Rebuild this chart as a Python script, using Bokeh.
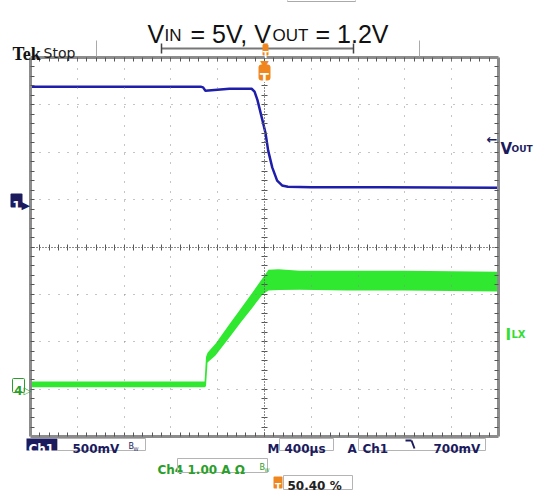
from bokeh.plotting import figure
from bokeh.models import (Range1d, LinearAxis, FixedTicker, Label,
                          BoxAnnotation, Arrow)
from bokeh.embed import file_html
from bokeh.resources import INLINE

# ---------------- data ----------------
# Ch1: V_OUT in volts, time in microseconds (trigger at 0)
t_vout = [-2000, -1000, -540, -525, -505, -300, -110, -85, -60, -20, 9, 31,
          66, 108, 150, 200, 400, 1000, 2000]
v_out = [1.19, 1.19, 1.19, 1.185, 1.15, 1.17, 1.17, 1.14, 1.05, 0.85, 0.70,
         0.52, 0.34, 0.20, 0.15, 0.135, 0.13, 0.13, 0.125]
# Ch4: I_LX in amperes, drawn as the noisy envelope (upper / lower)
t_ilx = [-2000, -1000, -512, -500, -487, -419, -300, -205, -100, -17, 34,
         120, 300, 700, 1200, 2000]
ilx_hi = [0.08, 0.08, 0.08, 0.60, 0.69, 0.88, 1.29, 1.61, 1.97, 2.26, 2.44,
          2.45, 2.42, 2.42, 2.42, 2.40]
ilx_lo = [-0.04, -0.04, -0.04, -0.02, 0.48, 0.63, 1.01, 1.32, 1.65, 1.92,
          2.00, 2.01, 2.02, 2.00, 2.00, 1.98]

# scope settings
time_div = 400      # us / div
n_xdiv, n_ydiv = 10, 8
ch1_scale = 0.5     # V / div
ch1_pos = 1.0       # ground marker, divisions
ch4_scale = 1.0     # A / div
ch4_pos = -2.92     # ground marker, divisions

# canvas and graticule placement (px)
W, H = 538, 492
GX0, GY0, GW, GH = 30, 57, 468, 379
us_px = n_xdiv * time_div / GW
div_px = n_ydiv / GH
XL, XR = -n_xdiv / 2 * time_div, n_xdiv / 2 * time_div
YB, YT = -n_ydiv / 2, n_ydiv / 2


def X(px):
    return XL + (px - GX0) * us_px


def Y(py):
    return YT - (py - GY0) * div_px


NAVY = "#1b1b5e"
GREEN_T = "#2fe82f"
GREEN_TXT = "#2a9e2a"
ORANGE = "#f0871e"
GRAY = "#8c8c8c"

p = figure(width=W, height=H,
           x_range=Range1d(X(0), X(W)), y_range=Range1d(Y(H), Y(0)),
           x_axis_location=None, y_axis_location=None,
           output_backend="svg", toolbar_location=None,
           min_border=0,
           background_fill_color="white", border_fill_color="white",
           outline_line_color=None)
p.xgrid.visible = False
p.ygrid.visible = False

p.extra_y_ranges = {
    "volts": Range1d((Y(H) - ch1_pos) * ch1_scale, (Y(0) - ch1_pos) * ch1_scale),
    "amps": Range1d((Y(H) - ch4_pos) * ch4_scale, (Y(0) - ch4_pos) * ch4_scale),
}

x_minor = [XL + time_div / 5 * i for i in range(1, n_xdiv * 5)]
y_minor = [YB + 0.2 * i for i in range(1, n_ydiv * 5)]


def gaxis(horizontal, loc, side, minor=None, color=GRAY, width=1,
          dash="solid", tick_in=0):
    ax = LinearAxis(fixed_location=loc,
                    bounds=(XL, XR) if horizontal else (YB, YT),
                    ticker=FixedTicker(ticks=[], minor_ticks=minor or []))
    ax.axis_line_color = color
    ax.axis_line_width = width
    ax.axis_line_dash = dash
    ax.major_tick_in = 0
    ax.major_tick_out = 0
    ax.minor_tick_in = tick_in
    ax.minor_tick_out = 0
    ax.minor_tick_line_color = "#555555"
    ax.minor_tick_line_width = 1
    p.add_layout(ax, side)


# division lines (dotted)
HDASH = "1 8 1 9 1 8 1 9 1 8"
VDASH = "1 8 1 8 1 9 1 8 1 9"
for d in range(1, n_ydiv):
    yy = YB + d
    if yy != 0:
        gaxis(True, yy, "below", color="#8a8a8a", dash=VDASH)
for d in range(1, n_xdiv):
    xx = XL + d * time_div
    if xx != 0:
        gaxis(False, xx, "left", color="#8a8a8a", dash=HDASH)

# centre cross with small ticks
gaxis(True, 0, "below", x_minor, "#666666", 1, "1 2", 3)
gaxis(True, 0, "above", x_minor, "#666666", 1, "1 2", 3)
gaxis(False, 0, "left", y_minor, "#666666", 1, "1 2", 3)
gaxis(False, 0, "right", y_minor, "#666666", 1, "1 2", 3)

# ---------------- traces ----------------
p.varea(x=t_ilx, y1=ilx_lo, y2=ilx_hi, y_range_name="amps",
        fill_color=GREEN_T)
p.line(t_vout, v_out, y_range_name="volts", line_color="#1e1eaa",
       line_width=2.5)

# graticule border with inward ticks
gaxis(True, YB, "below", x_minor, GRAY, 3, "solid", 4)
gaxis(True, YT, "above", x_minor, GRAY, 3, "solid", 4)
gaxis(False, XL, "left", y_minor, GRAY, 3, "solid", 4)
gaxis(False, XR, "right", y_minor, GRAY, 3, "solid", 4)


# ---------------- annotation helpers ----------------
def txt(px, py, s, size, color, font="DejaVu Sans", style="normal",
        align="left"):
    p.add_layout(Label(x=X(px), y=Y(py), text=s, text_font_size=f"{size}px",
                       text_color=color, text_font=font,
                       text_font_style=style, text_align=align,
                       text_baseline="alphabetic", level="overlay"))


def box(l, r, t, b, fill=None, line=None, lw=1, radius=0):
    p.add_layout(BoxAnnotation(left=X(l), right=X(r), top=Y(t), bottom=Y(b),
                               fill_color=fill or "white",
                               fill_alpha=1 if fill else 0,
                               line_color=line or "white",
                               line_alpha=1 if line else 0,
                               line_width=lw, border_radius=radius,
                               level="overlay"))


def seg(x1, y1, x2, y2, color, lw=1):
    p.add_layout(Arrow(end=None, x_start=X(x1), y_start=Y(y1),
                       x_end=X(x2), y_end=Y(y2),
                       line_color=color, line_width=lw, level="overlay"))


# title V_IN = 5V, V_OUT = 1.2V
TF = "Liberation Sans"
txt(147, 33, "V", 25, "#111111", TF)
txt(164, 35, "IN", 17, "#111111", TF)
txt(190, 33, "= 5V, V", 25, "#111111", TF)
txt(272, 35, "OUT", 17, "#111111", TF)
txt(315, 33, "= 1.2V", 25, "#111111", TF)

# Tek Stop
txt(12, 53, "Tek", 18, "#111111", "Liberation Serif", "bold")
txt(43, 52, "Stop", 14, "#222222", "DejaVu Sans")

# record-position bar
box(287, 355, -6, 1, line="#aaaaaa")
seg(96, 40, 96, 56, "#aaaaaa")
seg(419, 40, 419, 56, "#aaaaaa")
seg(161, 48, 353, 48, "#777777", 2)
seg(161, 43, 161, 53, "#444444", 1.5)
seg(353, 43, 353, 53, "#444444", 1.5)
txt(265, 45, "\u25BC", 7, ORANGE, align="center")
box(262, 268, 44, 55, fill=ORANGE, radius=1)
txt(265, 54, "T", 9, "white", style="bold", align="center")

# trigger position marker at top of graticule
txt(264, 64, "\u25BC", 11, ORANGE, align="center")
box(258, 270, 64, 80, fill=ORANGE, radius=3)
txt(264, 77, "T", 13, "white", style="bold", align="center")

# channel ground markers
box(10, 22, 193, 207, fill=NAVY, radius=1)
txt(16, 205, "1", 12, "white", style="bold", align="center")
txt(21, 205, "\u25B6", 11, NAVY)
box(12, 24, 378, 392, fill="white", line=GREEN_TXT, radius=1)
txt(18, 390, "4", 12, GREEN_TXT, style="bold", align="center")
txt(23, 390, "\u25B7", 10, GREEN_TXT)

# right-hand trace labels
txt(486, 139, "\u2190", 13, NAVY, style="bold")
txt(500, 148, "V", 15, NAVY, style="bold")
txt(511, 148, "OUT", 9, NAVY, style="bold")
txt(505, 334, "I", 15, "#33dd33", style="bold")
txt(511, 334, "LX", 10, "#33dd33", style="bold")

# bottom read-outs, row 1
BF = "DejaVu Sans"
box(26, 57, 438, 450, fill=NAVY)
txt(28, 448, "Ch1", 12, "white", BF, "bold")
box(57, 145, 438, 450, line="#b4b4b4")
txt(72, 448, "500mV", 12, NAVY, BF, "bold")
txt(128, 446, "B", 8, NAVY, BF)
txt(133, 448, "W", 5, NAVY, BF)
txt(267, 448, "M", 12, NAVY, BF, "bold")
box(279, 333, 438, 450, line="#b4b4b4")
txt(284, 448, "400\u00B5s", 12, NAVY, BF, "bold")
txt(347, 448, "A", 12, NAVY, BF, "bold")
box(358, 485, 438, 450, line="#b4b4b4")
txt(362, 448, "Ch1", 12, NAVY, BF, "bold")
seg(405, 440, 411, 440, NAVY, 2)
seg(411, 440, 414, 448, NAVY, 2)
txt(433, 448, "700mV", 12, NAVY, BF, "bold")

# row 2
txt(157, 469, "Ch4", 12, GREEN_TXT, BF, "bold")
box(177, 267, 458, 472, line="#b4b4b4")
txt(187, 469, "1.00 A \u03A9", 12, GREEN_TXT, BF, "bold")
txt(259, 467, "B", 8, GREEN_TXT, BF)
txt(264, 469, "W", 5, GREEN_TXT, BF)

# row 3
box(273, 282, 476, 488, fill=ORANGE, radius=1)
txt(277.5, 486, "T", 9, "white", BF, "bold", "center")
box(283, 352, 475, 489, line="#b4b4b4")
txt(287, 485, "50.40 %", 12, "#222222", BF, "bold")

open("out.html", "w").write(file_html(p, INLINE))
